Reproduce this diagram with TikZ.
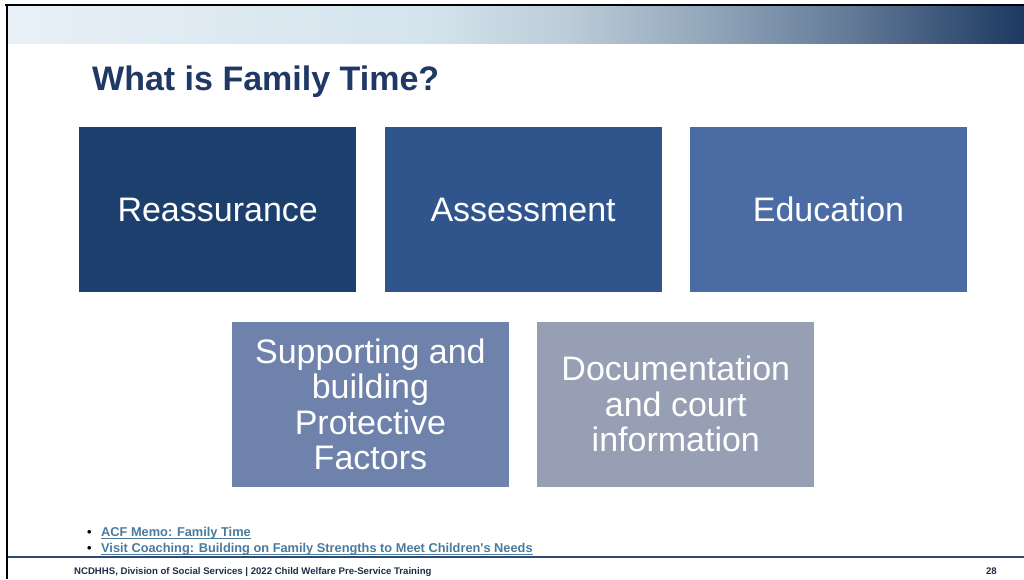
\documentclass[tikz,border=0pt]{standalone}
\usepackage{fontspec}
\setmainfont{Liberation Sans}
\usetikzlibrary{positioning, calc}

\definecolor{titleblue}{HTML}{1F3864}
\definecolor{tileA}{HTML}{1D3F6D}
\definecolor{tileB}{HTML}{2F558C}
\definecolor{tileC}{HTML}{4A6BA4}
\definecolor{tileD}{HTML}{6E82AB}
\definecolor{tileE}{HTML}{969FB3}
\definecolor{linkblue}{HTML}{4A7A9C}
\definecolor{footblue}{HTML}{1F2D4A}
\definecolor{ruleblue}{HTML}{2E4A70}

% band colours, left to right
\definecolor{bandA}{HTML}{E9F0F7}
\definecolor{bandB}{HTML}{D3E3EC}
\definecolor{bandC}{HTML}{BCCCD8}
\definecolor{bandD}{HTML}{95A9BC}
\definecolor{bandE}{HTML}{667D9A}
\definecolor{bandF}{HTML}{1D3961}
\pgfdeclarehorizontalshading{bandshade}{100bp}{%
  color(0bp)=(bandA); color(25bp)=(bandA); color(46bp)=(bandB);
  color(52.5bp)=(bandC); color(59bp)=(bandD); color(66bp)=(bandE);
  color(75bp)=(bandF); color(100bp)=(bandF)}

\newcommand{\tilefont}{\fontsize{34}{35.5}\selectfont}

\begin{document}
\begin{tikzpicture}[
    x=1pt, y=-1pt,          % one unit = one pixel of the slide
    tile/.style={rectangle, minimum width=277pt, minimum height=165pt,
                 inner sep=0pt, text=white, align=center, font=\tilefont},
    link/.style={anchor=base west, inner sep=0pt,
                 font=\bfseries\fontsize{12.8}{14}\selectfont},
    node distance=28pt
]
    \useasboundingbox (0,0) rectangle (1024,579);

    % --- slide frame and band ---
    \shade[shading=bandshade] (8,6) rectangle (1024,43);
    \draw[line width=2pt, black] (5,5) -- (1024,5);
    \draw[line width=2pt, black] (7,4) -- (7,579);
    \draw[line width=2pt, ruleblue] (8,557) -- (1024,557);

    % --- title ---
    \node[anchor=base west, inner sep=0pt, text=titleblue,
          font=\bfseries\fontsize{34}{40}\selectfont] (title) at (92,90.5) {What is Family Time?};

    % --- first row ---
    \node[tile, fill=tileA, anchor=north west] (reass) at (79,127) {Reassurance};
    \node[tile, fill=tileB, right=of reass] (assess) {Assessment};
    \node[tile, fill=tileC, right=of assess] (educ) {Education};

    % --- second row, centred under the gaps ---
    \coordinate (gapL) at ($(reass.south)!0.5!(assess.south)$);
    \coordinate (gapR) at ($(assess.south)!0.5!(educ.south)$);
    \node[tile, fill=tileD, below=29pt of gapL] (support) {Supporting and\\building\\Protective\\Factors};
    \node[tile, fill=tileE, below=29pt of gapR] (docu) {Documentation\\and court\\information};

    % --- links ---
    \node[link] (link1) at (87,536.5) {•\hspace{9.5pt}\textcolor{linkblue}{\underline{\smash{ACF Memo: Family Time}}}};
    \node[link] (link2) at (87,552.5) {•\hspace{9.5pt}\textcolor{linkblue}{\underline{\smash{Visit Coaching: Building on Family Strengths to Meet Children\textquotesingle s Needs}}}};

    % --- footer ---
    \node[anchor=base west, inner sep=0pt, text=footblue,
          font=\bfseries\fontsize{9.6}{11}\selectfont] (foot) at (74,574)
          {NCDHHS, Division of Social Services | 2022 Child Welfare Pre-Service Training};
    \node[anchor=base east, inner sep=0pt, text=footblue,
          font=\bfseries\fontsize{9.6}{11}\selectfont] (pagenum) at (997,574) {28};
\end{tikzpicture}
\end{document}
